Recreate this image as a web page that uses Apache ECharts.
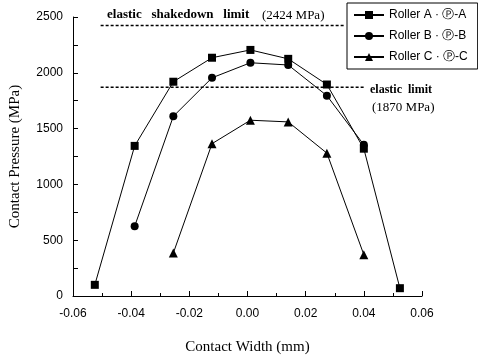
<!DOCTYPE html>
<html><head><meta charset="utf-8">
<script src="https://cdn.jsdelivr.net/npm/echarts@6/dist/echarts.min.js"></script>
<style>html,body{margin:0;padding:0;background:#fff}#c{width:478px;height:360px}</style>
</head><body><div id="c"></div>
<script>
const seriesNames = ['Roller A \u00b7 \u24c5-A', 'Roller B \u00b7 \u24c5-B', 'Roller C \u00b7 \u24c5-C'];
const rollerA = [[-0.0525,100],[-0.0388,1345],[-0.0255,1920],[-0.0122,2135],[0.001,2205],[0.014,2125],[0.0273,1895],[0.040,1320],[0.0524,70]];
const rollerB = [[-0.0388,625],[-0.0255,1610],[-0.0122,1955],[0.001,2090],[0.014,2070],[0.0273,1795],[0.040,1355]];
const rollerC = [[-0.0255,385],[-0.0122,1365],[0.001,1575],[0.014,1560],[0.0273,1280],[0.040,370]];
const shakedownLimit = [[-0.0505,2424],[0.0335,2424]];
const elasticLimit = [[-0.0505,1870],[0.0405,1870]];
const xTicks = {min:-0.06, max:0.06, interval:0.02};
const yTicks = {min:0, max:2500, interval:500};

const chart = echarts.init(document.getElementById('c'), null, {renderer:'canvas'});
const sansFont = 'Liberation Sans, Arial, sans-serif';
const serifFont = 'Liberation Serif, Times New Roman, serif';
function mk(name, data, symbol, size){
  return {name, type:'line', data, symbol, symbolSize:size, showSymbol:true,
    lineStyle:{color:'#000', width:1}, itemStyle:{color:'#000'}, animation:false, z:3};
}
function lim(data){
  return {type:'line', data, symbol:'none', silent:true, animation:false,
    lineStyle:{color:'#000', width:1.5, type:[3,2]}, z:2};
}
chart.setOption({
  animation:false,
  grid:{left:73, right:56, top:17, bottom:58, containLabel:false},
  legend:{
    data:seriesNames, orient:'vertical', left:347, top:3,
    borderColor:'#000', borderWidth:1, padding:[6,10,6,6], itemGap:9,
    itemWidth:30, itemHeight:10,
    textStyle:{color:'#000', fontFamily:sansFont, fontSize:12}
  },
  xAxis:{type:'value', min:xTicks.min, max:xTicks.max, interval:xTicks.interval,
    name:'Contact Width (mm)', nameLocation:'middle', nameGap:44,
    nameTextStyle:{color:'#000', fontFamily:serifFont, fontSize:15},
    axisLine:{onZero:false, lineStyle:{color:'#000', width:1}},
    axisTick:{inside:true, length:5, lineStyle:{color:'#000'}},
    minorTick:{show:true, splitNumber:2, length:3, lineStyle:{color:'#000'}},
    splitLine:{show:false},
    axisLabel:{color:'#000', fontFamily:sansFont, fontSize:12, margin:12, formatter:v=>v.toFixed(2)}
  },
  yAxis:{type:'value', min:yTicks.min, max:yTicks.max, interval:yTicks.interval,
    name:'Contact Pressure (MPa)', nameLocation:'middle', nameGap:50,
    nameTextStyle:{color:'#000', fontFamily:serifFont, fontSize:15},
    axisLine:{show:true, onZero:false, lineStyle:{color:'#000', width:1}},
    axisTick:{show:true, inside:true, length:5, lineStyle:{color:'#000'}},
    minorTick:{show:true, splitNumber:2, length:5, lineStyle:{color:'#000'}},
    splitLine:{show:false},
    axisLabel:{color:'#000', fontFamily:sansFont, fontSize:12, margin:10, formatter:v=>String(v)}
  },
  series:[
    mk(seriesNames[0], rollerA, 'rect', 8),
    mk(seriesNames[1], rollerB, 'circle', 8),
    mk(seriesNames[2], rollerC, 'triangle', 9),
    lim(shakedownLimit), lim(elasticLimit)
  ],
  graphic:[
    {type:'text', left:107, top:8, style:{text:'elastic   shakedown   limit', font:'bold 13px '+serifFont, fill:'#000'}},
    {type:'text', left:262, top:9, style:{text:'(2424 MPa)', font:'13px '+serifFont, fill:'#000'}},
    {type:'text', left:370, top:84, style:{text:'elastic  limit', font:'bold 12px '+serifFont, fill:'#000'}},
    {type:'text', left:372, top:101, style:{text:'(1870 MPa)', font:'13px '+serifFont, fill:'#000'}}
  ]
});
</script></body></html>
